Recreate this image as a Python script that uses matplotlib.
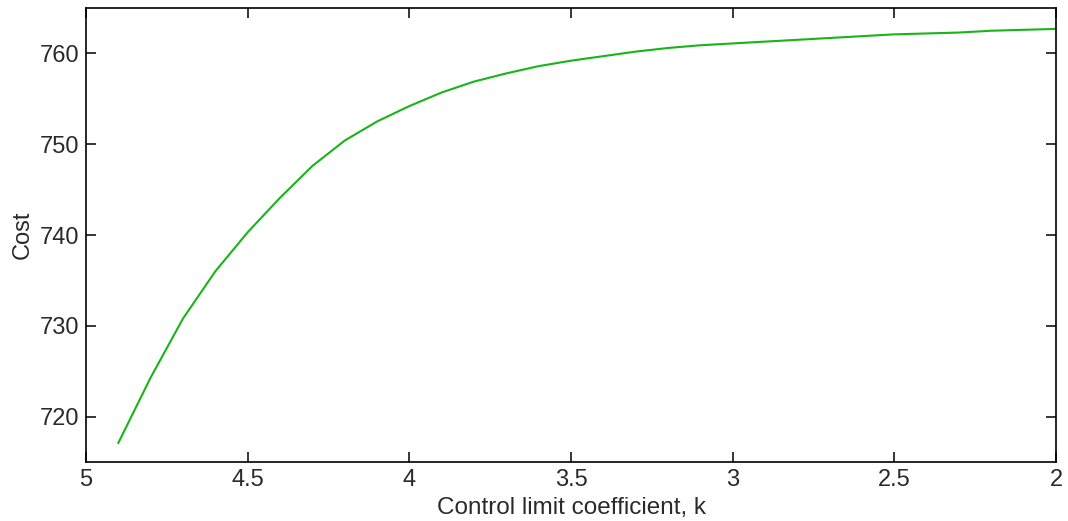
import numpy as np
import matplotlib.pyplot as plt

plt.rcParams['font.family'] = ['Liberation Sans', 'DejaVu Sans']

# control limit coefficient and the resulting expected cost
k = [4.9, 4.8, 4.7, 4.6, 4.5, 4.4, 4.3, 4.2, 4.1, 4.0,
     3.9, 3.8, 3.7, 3.6, 3.5, 3.4, 3.3, 3.2, 3.1, 3.0,
     2.9, 2.8, 2.7, 2.6, 2.5, 2.4, 2.3, 2.2, 2.1, 2.0]
cost = [717.1, 724.3, 730.8, 736.0, 740.3, 744.1, 747.6, 750.4, 752.5, 754.2,
        755.7, 756.9, 757.8, 758.6, 759.2, 759.7, 760.2, 760.6, 760.9, 761.1,
        761.3, 761.5, 761.7, 761.9, 762.1, 762.2, 762.3, 762.5, 762.6, 762.7]

xticks = [5, 4.5, 4, 3.5, 3, 2.5, 2]
xticklabels = ['5', '4.5', '4', '3.5', '3', '2.5', '2']
yticks = [720, 730, 740, 750, 760]

fig = plt.figure(figsize=(10.68, 5.21), dpi=100)
ax = fig.add_axes([0.0805, 0.1132, 0.9083, 0.8714])

ax.plot(k, cost, color='#18b418', lw=1.5)

ax.set_xlim(5, 2)
ax.set_ylim(715, 765)
ax.set_xticks(xticks)
ax.set_xticklabels(xticklabels)
ax.set_yticks(yticks)

ax.tick_params(direction='in', length=7, width=1.1, labelsize=17,
               top=True, right=True, pad=5, colors='black',
               labelcolor='#2a2a2a')
for s in ax.spines.values():
    s.set_linewidth(1.2)

ax.set_xlabel('Control limit coefficient, k', fontsize=17.5, labelpad=4,
              color='#2a2a2a')
ax.set_ylabel('Cost', fontsize=17, labelpad=4, color='#2a2a2a')

fig.savefig('out.png', dpi=100)
